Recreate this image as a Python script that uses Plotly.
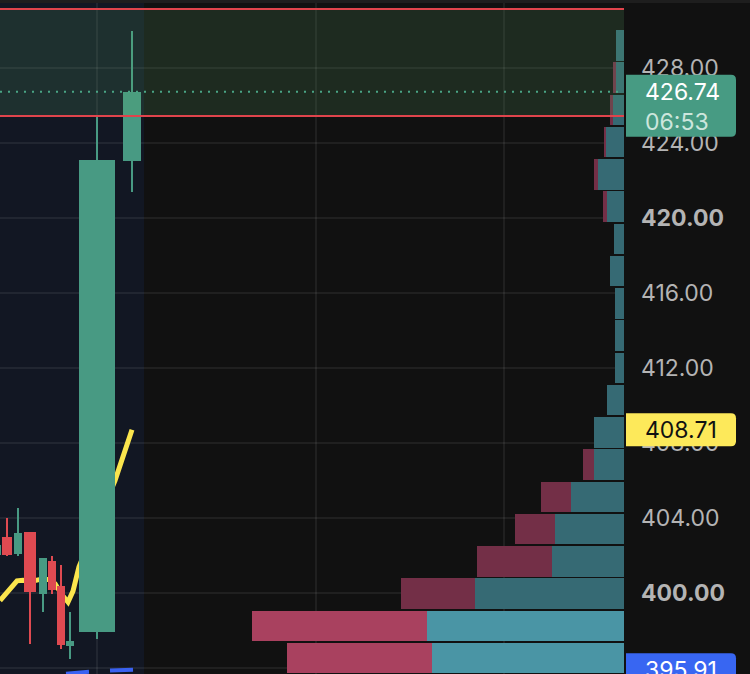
import plotly.graph_objects as go

# ---------------- data ----------------
# candles (x = time position, OHLC)
cx    = [-2, 7, 18, 30, 43, 52, 61, 70, 97, 132]
cw    = [6, 10, 8, 12, 8, 8, 8, 8, 36, 18]
c_open  = [402.05, 402.99, 402.08, 403.25, 399.95, 401.71, 400.37, 397.17, 397.92, 423.04]
c_high  = [402.70, 404.00, 404.53, 403.25, 401.87, 401.97, 401.49, 398.99, 425.39, 429.97]
c_low   = [401.90, 401.97, 401.97, 397.28, 398.99, 399.95, 397.01, 396.48, 397.55, 421.39]
c_close = [402.58, 402.03, 403.20, 400.05, 401.87, 400.16, 397.23, 397.44, 423.09, 426.74]

# moving averages
ma1_x = [0, 8, 17, 23, 30, 38, 44, 50, 55, 62, 68, 73, 79, 115, 132]
ma1_y = [399.60, 400.05, 400.65, 400.68, 400.60, 400.70, 400.75, 400.70, 400.50, 399.90, 399.52, 400.10, 401.40, 406.00, 408.71]
ma2_x = [66, 89, None, 110, 133]
ma2_y = [395.70, 395.80, None, 395.87, 395.91]

# volume profile rows (price level centers), buy / sell volume
vp_price = [429.21, 427.49, 425.77, 424.05, 422.33, 420.61, 418.89, 417.17, 415.45, 413.73,
            412.01, 410.29, 408.57, 406.85, 405.13, 403.41, 401.69, 399.97, 398.25, 396.53]
vp_buy  = [1.3, 1.4, 1.9, 3.0, 4.2, 2.7, 1.6, 2.2, 1.4, 1.4,
           1.4, 2.7, 4.8, 4.8, 8.5, 11.1, 11.5, 23.9, 31.6, 30.8]
vp_sell = [0.0, 0.3, 0.3, 0.2, 0.6, 0.6, 0.0, 0.0, 0.0, 0.0,
           0.0, 0.0, 0.0, 1.8, 4.8, 6.4, 12.0, 11.9, 28.0, 23.2]
vp_highlight = [0]*18 + [1, 1]

tick_vals = [396, 400, 404, 408, 412, 416, 420, 424, 428]
tick_text = ["396.00", "<b>400.00</b>", "404.00", "408.00", "412.00", "416.00",
             "<b>420.00</b>", "424.00", "428.00"]

zone_low, zone_high = 425.44, 431.15
last_price = 426.74
last_time = "06:53"
ma1_last = 408.71
ma2_last = 395.91
session_end = 144
vgrid = [97, 316, 504]

# ---------------- styling ----------------
Y0, Y1 = 395.68, 431.63
XR = [0, 624]
BG = "#111111"
GREEN = "#489a83"
RED = "#df4a51"
W, H = 750, 674
PLOT_W = 624
px_per_price = H / (Y1 - Y0)

fig = go.Figure()

# moving averages (base subplot)
fig.add_trace(go.Scatter(x=ma1_x, y=ma1_y, mode="lines",
                         line=dict(color="#fbe54d", width=5), hoverinfo="skip"))
fig.add_trace(go.Scatter(x=ma2_x, y=ma2_y, mode="lines", connectgaps=False,
                         line=dict(color="#3a62f2", width=4), hoverinfo="skip"))

# volume profile (x2 reversed, overlay)
buy_col = ["#4a95a5" if h else "#366a74" for h in vp_highlight]
sell_col = ["#a9415f" if h else "#732f47" for h in vp_highlight]
row_h = 30.5 / px_per_price
fig.add_trace(go.Bar(y=vp_price, x=vp_buy, base=[0]*len(vp_buy), orientation="h",
                     width=row_h, marker=dict(color=buy_col, line_width=0),
                     xaxis="x2", yaxis="y", hoverinfo="skip"))
fig.add_trace(go.Bar(y=vp_price, x=vp_sell, base=vp_buy, orientation="h",
                     width=row_h, marker=dict(color=sell_col, line_width=0),
                     xaxis="x2", yaxis="y", hoverinfo="skip"))

# candles (overlay y2 so they sit above the MA lines)
ccol = [GREEN if c >= o else RED for o, c in zip(c_open, c_close)]
fig.add_trace(go.Bar(x=cx, base=c_low, y=[h - l for h, l in zip(c_high, c_low)],
                     width=[2]*len(cx), marker=dict(color=ccol, line_width=0),
                     xaxis="x", yaxis="y2", hoverinfo="skip"))
fig.add_trace(go.Bar(x=cx, base=[min(o, c) for o, c in zip(c_open, c_close)],
                     y=[abs(c - o) for o, c in zip(c_open, c_close)],
                     width=cw, marker=dict(color=ccol, line_width=0),
                     xaxis="x", yaxis="y2", hoverinfo="skip"))

def py(price):
    return (price - Y0) / (Y1 - Y0)

def px_x(p):
    return p / PLOT_W

shapes = []
# session highlight
shapes.append(dict(type="rect", xref="x", yref="paper", x0=0, x1=session_end, y0=0, y1=1,
                   fillcolor="#121723", line_width=0, layer="below"))
# zone band
shapes.append(dict(type="rect", xref="paper", yref="y", x0=0, x1=1, y0=zone_low, y1=zone_high,
                   fillcolor="rgba(95,170,105,0.17)", line_width=0, layer="above"))
for yv in (zone_low, zone_high):
    shapes.append(dict(type="line", xref="paper", yref="y", x0=0, x1=1, y0=yv, y1=yv,
                       line=dict(color="#e0444c", width=2), layer="above"))
# last price dotted line
shapes.append(dict(type="line", xref="paper", yref="y", x0=0, x1=1, y0=last_price, y1=last_price,
                   line=dict(color="#4aa585", width=2, dash="2px,6px"), layer="above"))
# top strip
shapes.append(dict(type="rect", xref="paper", yref="paper", x0=0, x1=W / PLOT_W,
                   y0=1 - 3 / H, y1=1, fillcolor="#1e1e1e", line_width=0, layer="above"))

def rbox(yc_price, up_px, down_px, color):
    x0, x1 = px_x(626), px_x(736)
    y1 = py(yc_price) + up_px / H
    y0 = py(yc_price) - down_px / H
    rx, ry = px_x(5), 5 / H
    path = (f"M{x0},{y0} L{x1 - rx},{y0} Q{x1},{y0} {x1},{y0 + ry} "
            f"L{x1},{y1 - ry} Q{x1},{y1} {x1 - rx},{y1} L{x0},{y1} Z")
    return dict(type="path", xref="paper", yref="paper", path=path,
                fillcolor=color, line_width=0, layer="above")

shapes.append(rbox(last_price, 17, 45, "#479b83"))
shapes.append(rbox(ma1_last, 16.5, 16.5, "#fde95a"))
shapes.append(rbox(ma2_last, 16.5, 16.5, "#3866f2"))

FONT = "Inter, Roboto, sans-serif"
ann = []
tx = px_x(643)
ann.append(dict(xref="paper", yref="y", x=tx, y=last_price, xanchor="left", yanchor="middle",
                text="426.74", showarrow=False, font=dict(family=FONT, size=23, color="#ffffff")))
ann.append(dict(xref="paper", yref="y", x=tx, y=last_price - 30 / px_per_price, xanchor="left",
                yanchor="middle", text=last_time, showarrow=False,
                font=dict(family=FONT, size=23, color="#cde6dd")))
ann.append(dict(xref="paper", yref="y", x=tx, y=ma1_last, xanchor="left", yanchor="middle",
                text=f"{ma1_last:.2f}", showarrow=False, font=dict(family=FONT, size=23, color="#111111")))
ann.append(dict(xref="paper", yref="y", x=tx, y=ma2_last, xanchor="left", yanchor="middle",
                text=f"{ma2_last:.2f}", showarrow=False, font=dict(family=FONT, size=23, color="#ffffff")))

GRID = "rgba(255,255,255,0.065)"
fig.update_layout(
    width=W, height=H,
    margin=dict(l=0, r=W - PLOT_W, t=0, b=0),
    paper_bgcolor=BG, plot_bgcolor=BG,
    showlegend=False, barmode="overlay", bargap=0,
    shapes=shapes, annotations=ann,
    xaxis=dict(range=XR, tickvals=vgrid, showticklabels=False, showgrid=True, gridcolor=GRID,
               gridwidth=2, zeroline=False, showline=False, fixedrange=True),
    xaxis2=dict(range=[100, 0], overlaying="x", showticklabels=False, showgrid=False,
                zeroline=False, showline=False),
    yaxis=dict(range=[Y0, Y1], side="right", tickvals=tick_vals, ticktext=tick_text,
               showgrid=True, gridcolor=GRID, gridwidth=2, zeroline=False, showline=False,
               ticks="", ticklabelstandoff=16,
               tickfont=dict(family=FONT, size=23, color="#b4b4b4")),
    yaxis2=dict(range=[Y0, Y1], overlaying="y", showticklabels=False, showgrid=False,
                zeroline=False, showline=False),
)

fig.write_html("out.html")
